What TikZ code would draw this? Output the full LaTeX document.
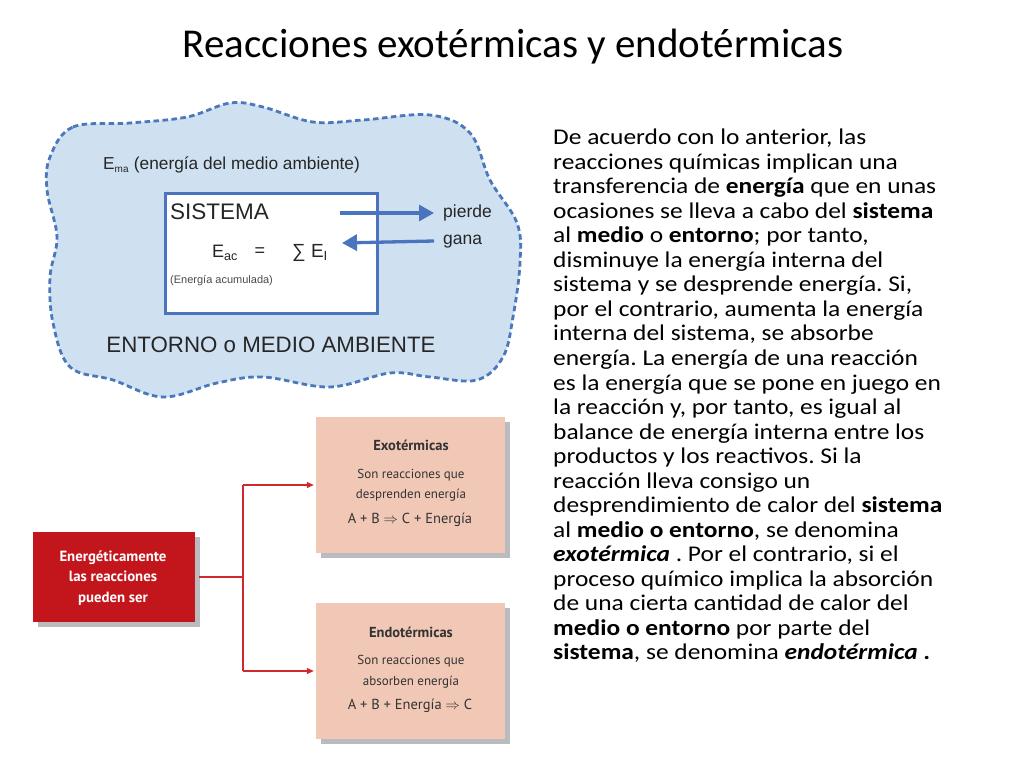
\documentclass[tikz,border=0pt]{standalone}
\usepackage{fontspec}
\setmainfont{Carlito}
\newfontfamily\bodyf[FakeStretch=1.13]{Carlito}
\newfontfamily\arialf{Liberation Sans}
\newfontfamily\gillf{PT Sans}
\usetikzlibrary{arrows.meta}
\frenchspacing
\definecolor{cloudfill}{HTML}{CFE0F1}
\definecolor{cloudline}{HTML}{4A78BA}
\definecolor{sysblue}{HTML}{4A74BE}
\definecolor{boxred}{HTML}{C3161C}
\definecolor{linered}{HTML}{D0282C}
\definecolor{peach}{HTML}{F1C8B6}
\definecolor{shadowgray}{HTML}{B9BBBE}
\begin{document}
\begin{tikzpicture}[x=1pt,y=-1pt,
  bluearrow/.style={draw=sysblue,line width=3.3pt,-{Triangle[length=15pt,width=16pt]}},
  redline/.style={draw=linered,line width=1.1pt},
  redarrow/.style={redline,-{Triangle[length=7pt,width=6pt]}},
  arialtxt/.style={font=\arialf, text=black!85, inner sep=0pt},
  gilltxt/.style={font=\gillf\fontsize{13}{15}\selectfont, text=black!80, inner sep=0pt},
  eqtxt/.style={font=\gillf\fontsize{14.5}{16}\selectfont, text=black!80, inner sep=0pt}
]
\useasboundingbox (0,0) rectangle (1024,768);
\fill[white] (0,0) rectangle (1024,768);

% title
\node[font=\fontsize{41}{44}\selectfont, inner sep=0pt, anchor=base] (title) at (513,58) {Reacciones exotérmicas y endotérmicas};

% cloud
\draw[fill=cloudfill, draw=cloudline, line width=2.8pt, dash pattern=on 5.5pt off 3.5pt]
  plot[smooth cycle, tension=0.6] coordinates {
  (50,157) (73,127) (130,123) (187,117) (230,103) (263,107) (313,122) (363,120)
  (430,115) (470,133) (490,180) (517,223) (520,263) (513,317) (503,357) (477,380)
  (430,377) (390,373) (330,387) (263,377) (217,383) (163,397) (113,380) (70,367)
  (53,323) (50,277) (57,237) (47,190)};

\node[arialtxt, anchor=west, font=\arialf\fontsize{17.3}{19}\selectfont] (ema) at (103,165)
  {E\textsubscript{\fontsize{10}{11}\selectfont ma} (energía del medio ambiente)};

% sistema box
\node[draw=sysblue, line width=3pt, fill=white, minimum width=212pt, minimum height=120pt, inner sep=0pt] (sis) at (271,253) {};
\node[arialtxt, anchor=west, font=\arialf\fontsize{22.5}{24}\selectfont] (sistxt) at (170,212) {SISTEMA};
\node[arialtxt, font=\arialf\fontsize{18}{20}\selectfont] (eac) at (225,253) {E\textsubscript{ac}};
\node[arialtxt, font=\arialf\fontsize{18}{20}\selectfont] (eq) at (260,252) {=};
\node[arialtxt, anchor=west, font=\arialf\fontsize{19}{21}\selectfont] (sum) at (292,253) {∑ E\textsubscript{I}};
\node[arialtxt, anchor=west, font=\arialf\fontsize{11}{12}\selectfont, text=black!70] (acum) at (170,281) {(Energía acumulada)};

\node[arialtxt, anchor=west, font=\arialf\fontsize{17.5}{19}\selectfont] (pierde) at (443,213) {pierde};
\node[arialtxt, anchor=west, font=\arialf\fontsize{17.5}{19}\selectfont] (gana) at (443,242) {gana};
\coordinate (pstart) at (340,213);
\coordinate (gend) at (342,243);
\draw[bluearrow] (pstart) -- ([xshift=-9pt]pierde.west);
\draw[bluearrow] ([xshift=-9pt,yshift=1pt]gana.west) -- (gend);

\node[arialtxt, font=\arialf\fontsize{22.3}{24}\selectfont] (entorno) at (271,345) {ENTORNO o MEDIO AMBIENTE};

% lower diagram
\fill[shadowgray] (38,537) rectangle (200,627);
\node[fill=boxred, minimum width=162pt, minimum height=90pt, inner sep=0pt] (rb) at (114,577) {};
\node[font=\gillf\bfseries\fontsize{14.8}{20.5}\selectfont, text=white, align=center, inner sep=0pt] (rbt) at (113,578)
  {Energéticamente\\las reacciones\\pueden ser};

\fill[shadowgray] (321,422) rectangle (510,558);
\node[fill=peach, minimum width=189pt, minimum height=136pt, inner sep=0pt] (exo) at (410.5,485) {};
\fill[shadowgray] (321,608) rectangle (510,744);
\node[fill=peach, minimum width=189pt, minimum height=136pt, inner sep=0pt] (endo) at (410.5,671) {};

\node[gilltxt, font=\gillf\bfseries\fontsize{14.5}{16}\selectfont] (exot) at (411,445) {Exotérmicas};
\node[gilltxt] (exo1) at (411,475) {Son reacciones que};
\node[gilltxt] (exo2) at (411,495) {desprenden energía};
\node[eqtxt] (exo3) at (410,520) {A + B $\Rightarrow$ C + Energía};

\node[gilltxt, font=\gillf\bfseries\fontsize{14.5}{16}\selectfont] (endot) at (411,632) {Endotérmicas};
\node[gilltxt] (endo1) at (411,661) {Son reacciones que};
\node[gilltxt] (endo2) at (411,682) {absorben energía};
\node[eqtxt] (endo3) at (410,706) {A + B + Energía $\Rightarrow$ C};

\coordinate (j) at (243,577);
\draw[redline] ([xshift=4pt]rb.east) -- (j);
\draw[redline] (j |- exo.west) -- (j |- endo.west);
\draw[redarrow] (j |- exo.west) -- ([xshift=-2pt]exo.west);
\draw[redarrow] (j |- endo.west) -- ([xshift=-2pt]endo.west);

% right text
\node[anchor=north west, inner sep=0pt, align=left, font=\bodyf\fontsize{22.5}{24.52}\selectfont] (body) at (553,129)
{De acuerdo con lo anterior, las\\
reacciones químicas implican una\\
transferencia de \textbf{energía} que en unas\\
ocasiones se lleva a cabo del \textbf{sistema}\\
al \textbf{medio} o \textbf{entorno}; por tanto,\\
disminuye la energía interna del\\
sistema y se desprende energía. Si,\\
por el contrario, aumenta la energía\\
interna del sistema, se absorbe\\
energía. La energía de una reacción\\
es la energía que se pone en juego en\\
la reacción y, por tanto, es igual al\\
balance de energía interna entre los\\
productos y los reactivos. Si la\\
reacción lleva consigo un\\
desprendimiento de calor del \textbf{sistema}\\
al \textbf{medio o entorno}, se denomina\\
\textbf{\textit{exotérmica}} . Por el contrario, si el\\
proceso químico implica la absorción\\
de una cierta cantidad de calor del\\
\textbf{medio o entorno} por parte del\\
\textbf{sistema}, se denomina \textbf{\textit{endotérmica}} \textbf{.}};
\end{tikzpicture}
\end{document}
